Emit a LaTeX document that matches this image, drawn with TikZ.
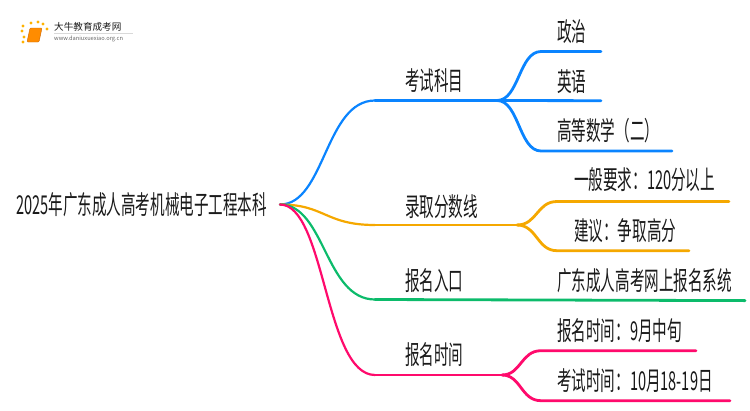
\documentclass[tikz,border=0pt]{standalone}
\usepackage{fontspec}
\setmainfont[FakeStretch=0.56]{Noto Sans CJK SC}
\newfontfamily\logofont{Noto Sans CJK SC}
\definecolor{cblue}{HTML}{0A84FF}
\definecolor{corange}{HTML}{F5A800}
\definecolor{cgreen}{HTML}{0CBB6B}
\definecolor{cpink}{HTML}{FF0A6C}
\definecolor{ctext}{HTML}{1A1A1A}
\tikzstyle{lab} = [inner sep=0pt, anchor=west, text=ctext, font=\fontsize{26}{28}\selectfont]
\tikzstyle{wire} = [line width=2.8pt, line cap=round]
\tikzstyle{curv} = [line width=2.2pt, line cap=round]
\tikzstyle{dot} = [circle, fill=orange!60!yellow, inner sep=0pt, minimum size=3.4pt]

\begin{document}
\begin{tikzpicture}[x=1pt,y=-1pt]
\useasboundingbox (0,0) rectangle (750,410);

%% Logo
\foreach \dx/\dy in {23/26,31/23,38/22,43/24,47/29,22/31,24/37,23/42} {
  \node [dot] at (\dx,\dy) {};
}
\draw [fill=orange!90!yellow, draw=orange!80!black, rounded corners=1pt] (30,28) -- (42,28) -- (39,42) -- (27,42) -- cycle;
\node (log_nam) [inner sep=0pt, anchor=west, text=ctext, font=\logofont\fontsize{9.6}{10}\selectfont] at (54,27) {大牛教育成考网};
\node (log_url) [inner sep=0pt, anchor=west, text=black!60, font=\logofont\fontsize{5.7}{7}\selectfont] at (54,39) {www.daniuxuexiao.org.cn};
\draw [black!15, thin] (54,33) -- (133,33);

%% Root
\node (root) [lab] at (16,205) {2025年广东成人高考机械电子工程本科};
\coordinate (rt) at (280,204.5);

%% Exam subjects
\node (sub) [lab] at (405,81) {考试科目};
\node (sub_a) [lab] at (557,32) {政治};
\node (sub_b) [lab] at (557,82) {英语};
\node (sub_c) [lab] at (557,131) {高等数学（二）};
\coordinate (sub_s) at (375,100.5);
\coordinate (sub_j) at (497,100.5);
\coordinate (sub_a1) at (541,51.5);
\coordinate (sub_a2) at (601,51.5);
\coordinate (sub_b2) at (601,100.7);
\coordinate (sub_c1) at (541,151);
\coordinate (sub_c2) at (672,151);

%% Admission score
\node (sco) [lab] at (405,207) {录取分数线};
\node (sco_a) [lab] at (574,180) {一般要求：120分以上};
\node (sco_b) [lab] at (574,231) {建议：争取高分};
\coordinate (sco_s) at (375,225);
\coordinate (sco_j) at (517,225);
\coordinate (sco_a1) at (557,201.5);
\coordinate (sco_a2) at (729,201.5);
\coordinate (sco_b1) at (557,250.7);
\coordinate (sco_b2) at (689,250.7);

%% Entry
\node (ent) [lab] at (405,281) {报名入口};
\node (ent_a) [lab] at (557,281) {广东成人高考网上报名系统};
\coordinate (ent_s) at (375,299.5);
\coordinate (ent_e) at (745,300.6);

%% Dates
\node (dat) [lab] at (405,355) {报名时间};
\node (dat_a) [lab] at (557,331) {报名时间：9月中旬};
\node (dat_b) [lab] at (557,381) {考试时间：10月18-19日};
\coordinate (dat_s) at (375,375);
\coordinate (dat_j) at (502,375);
\coordinate (dat_a1) at (541,350.7);
\coordinate (dat_a2) at (696,350.7);
\coordinate (dat_b1) at (541,400.7);
\coordinate (dat_b2) at (730,400.7);

%% Arrows
\draw [curv, cblue] (rt) .. controls (325,204.5) and (325,100.5) .. (sub_s);
\draw [wire, cblue] (sub_s) -- (sub_j);
\draw [wire, cblue] (sub_j) .. controls (519,100.5) and (519,51.5) .. (sub_a1) -- (sub_a2);
\draw [wire, cblue] (sub_j) -- (sub_b2);
\draw [wire, cblue] (sub_j) .. controls (519,100.5) and (519,151) .. (sub_c1) -- (sub_c2);

\draw [curv, corange] (rt) .. controls (325,204.5) and (325,225) .. (sco_s);
\draw [wire, corange] (sco_s) -- (sco_j);
\draw [wire, corange] (sco_j) .. controls (537,225) and (537,201.5) .. (sco_a1) -- (sco_a2);
\draw [wire, corange] (sco_j) .. controls (537,225) and (537,250.7) .. (sco_b1) -- (sco_b2);

\draw [curv, cgreen] (rt) .. controls (325,204.5) and (325,299.5) .. (ent_s);
\draw [wire, cgreen] (ent_s) -- (ent_e);

\draw [curv, cpink] (rt) .. controls (325,204.5) and (325,375) .. (dat_s);
\draw [wire, cpink] (dat_s) -- (dat_j);
\draw [wire, cpink] (dat_j) .. controls (521,375) and (521,350.7) .. (dat_a1) -- (dat_a2);
\draw [wire, cpink] (dat_j) .. controls (521,375) and (521,400.7) .. (dat_b1) -- (dat_b2);
\end{tikzpicture}
\end{document}
